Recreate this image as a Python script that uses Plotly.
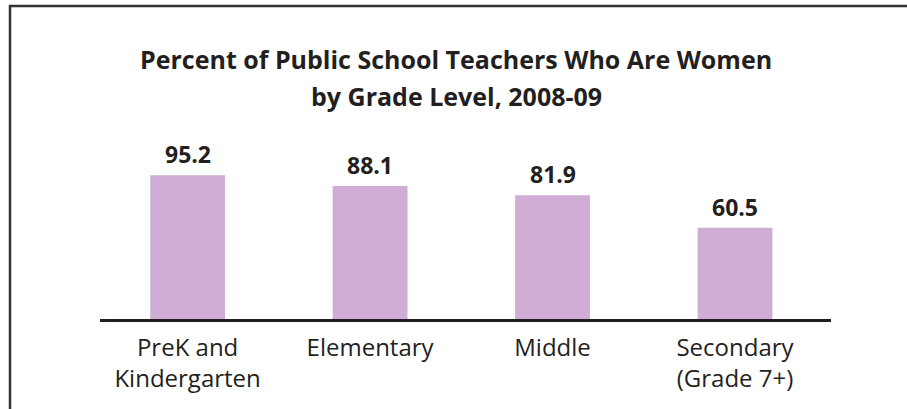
import plotly.graph_objects as go

categories = ["PreK and<br>Kindergarten", "Elementary", "Middle", "Secondary<br>(Grade 7+)"]
values = [95.2, 88.1, 81.9, 60.5]
value_labels = ["95.2", "88.1", "81.9", "60.5"]
title_lines = ["Percent of Public School Teachers Who Are Women", "by Grade Level, 2008-09"]

W, H = 907, 409
ml, mr, mt, mb = 100, 76, 40, 90
pw = W - ml - mr
ph = H - mt - mb
TXT = "#231f20"

def px(x):
    return (x - ml) / pw

def py(y):
    return (H - mb - y) / ph

fig = go.Figure()
fig.add_trace(go.Bar(
    x=list(range(len(categories))), y=values,
    marker=dict(color="#cfadd5", line=dict(width=0)),
    width=0.41,
    hoverinfo="skip",
))

for i, (v, t) in enumerate(zip(values, value_labels)):
    fig.add_annotation(x=i, y=v, text="<b>%s</b>" % t, showarrow=False,
                       xanchor="center", yanchor="bottom", yshift=3,
                       font=dict(family="Open Sans", size=23, color=TXT))

for yy, line in zip([59, 96], title_lines):
    fig.add_annotation(x=px(456), y=py(yy), xref="paper", yref="paper",
                       xanchor="center", yanchor="middle",
                       text="<b>%s</b>" % line, showarrow=False,
                       font=dict(family="Open Sans", size=25, color=TXT))

# frame lines
fig.add_shape(type="line", xref="paper", yref="paper", x0=px(9), x1=px(912), y0=py(6), y1=py(6),
              line=dict(color="#333333", width=2.5))
fig.add_shape(type="line", xref="paper", yref="paper", x0=px(10), x1=px(10), y0=py(5), y1=py(412),
              line=dict(color="#333333", width=2.5))

fig.update_layout(
    width=W, height=H,
    margin=dict(l=ml, r=mr, t=mt, b=mb),
    paper_bgcolor="white", plot_bgcolor="white",
    showlegend=False,
    xaxis=dict(range=[-0.48, 3.526], tickmode="array", tickvals=list(range(len(categories))),
               ticktext=categories, showgrid=False, zeroline=False,
               showline=True, linecolor=TXT, linewidth=2.5, ticks="",
               ticklabelstandoff=5,
               tickfont=dict(family="Open Sans", size=24, color=TXT)),
    yaxis=dict(range=[0, ph / 1.51], visible=False, showgrid=False, zeroline=False),
)

fig.write_html("out.html", config={"displayModeBar": False},
               post_script="document.body.style.margin='0';")
